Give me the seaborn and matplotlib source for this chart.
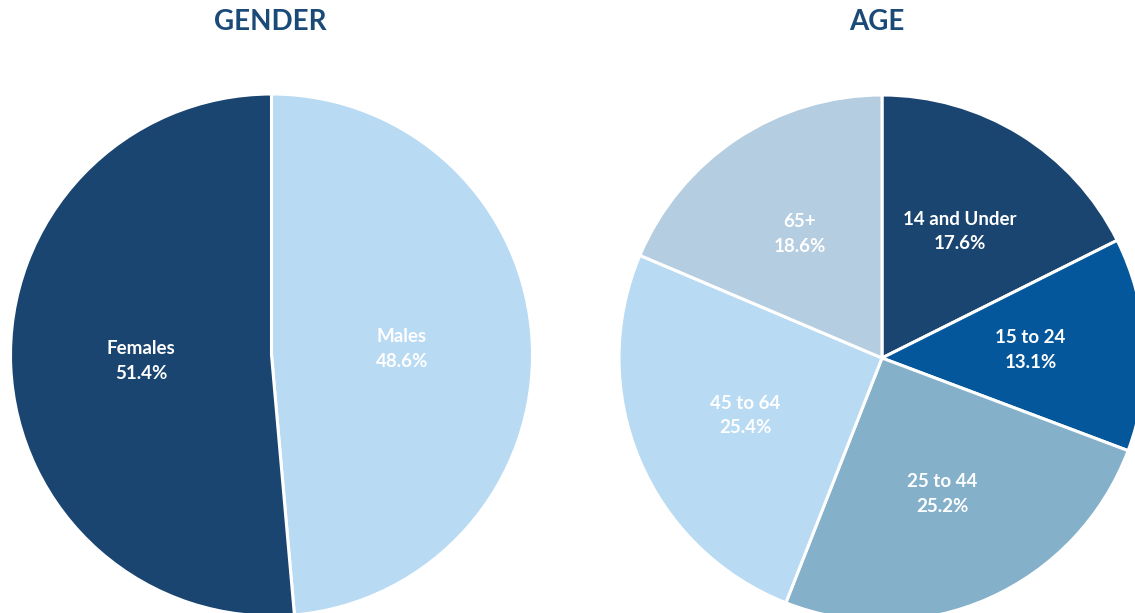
import matplotlib.pyplot as plt
import seaborn as sns

gender_labels = ['Males', 'Females']
gender_values = [48.6, 51.4]
gender_colors = ['#B9DAF3', '#1A4571']

age_labels = ['14 and Under', '15 to 24', '25 to 44', '45 to 64', '65+']
age_values = [17.6, 13.1, 25.2, 25.4, 18.6]
age_colors = ['#1A4571', '#05579B', '#84B0CA', '#B9DAF3', '#B5CDE0']

sns.set_theme(style='white')
plt.rcParams['font.family'] = ['Lato', 'DejaVu Sans']

W, H = 1135, 613
fig = plt.figure(figsize=(W / 100, H / 100), dpi=100)


def pie_axes(cx, cy, r):
    # place a square axes so the unit pie lands at pixel centre (cx, cy)
    return fig.add_axes([(cx - r) / W, (H - cy - r) / H, 2 * r / W, 2 * r / H])


def draw_pie(ax, labels, values, colors, pctdist):
    def fmt(pct, it=iter(zip(labels, values))):
        lab, val = next(it)
        return f'{lab}\n{val:.1f}%'

    wedges = ax.pie(values, colors=colors, startangle=90, counterclock=False,
                    radius=1, autopct=fmt, pctdistance=pctdist,
                    wedgeprops=dict(edgecolor='white', linewidth=2.2),
                    textprops=dict(color='white', fontsize=13.5, fontweight='bold',
                                   linespacing=1.55))[0]
    for w in wedges:
        w.set_clip_on(False)
    ax.set_xlim(-1, 1)
    ax.set_ylim(-1, 1)
    ax.set_aspect('equal')
    ax.axis('off')


ax1 = pie_axes(271.5, 355, 261)
draw_pie(ax1, gender_labels, gender_values, gender_colors, 0.5)
ax2 = pie_axes(882, 358, 263)
draw_pie(ax2, age_labels, age_values, age_colors, 0.565)

fig.text(270 / W, 1 - 22 / H, 'GENDER', ha='center', va='center', fontsize=20,
         fontweight='bold', color='#1A4A78')
fig.text(877 / W, 1 - 22 / H, 'AGE', ha='center', va='center', fontsize=20,
         fontweight='bold', color='#1A4A78')

fig.savefig('out.png', dpi=100)
